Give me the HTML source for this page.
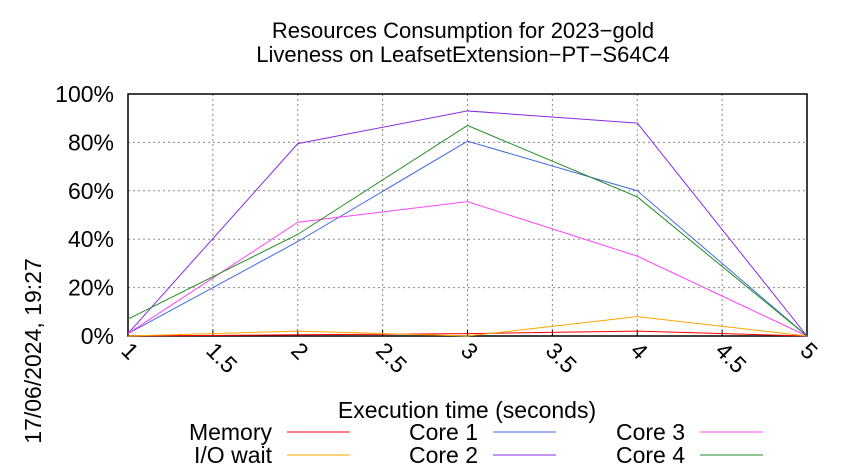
<!DOCTYPE html>
<html><head><meta charset="utf-8"><style>body{margin:0;background:#fff}svg{display:block;font-family:"Liberation Sans",sans-serif}</style></head>
<body>
<svg width="850" height="475">
<text x="463" y="38" font-size="22" text-anchor="middle">Resources Consumption for 2023−gold</text>
<text x="463" y="62" font-size="22" text-anchor="middle">Liveness on LeafsetExtension−PT−S64C4</text>
<g id="grid"></g>
<g id="axes"></g>
<g id="series"></g>
<text x="467" y="418" font-size="23" text-anchor="middle">Execution time (seconds)</text>
<text transform="translate(41,351) rotate(-90)" font-size="23" text-anchor="middle">17/06/2024, 19:27</text>
<g id="legend"></g>
</svg>
<script>
const xValues=[1,2,3,4,5];
const memory=[0,0.5,1,2,0];
const ioWait=[0,2,0,8,0];
const core1=[1,39,80.5,60,0];
const core2=[1,79.5,93,88,0];
const core3=[1,47,55.5,33,0];
const core4=[7,42,87,57.5,0];
const xTicks=[1,1.5,2,2.5,3,3.5,4,4.5,5];
const yTicks=[0,20,40,60,80,100];
const seriesNames=["Memory","I/O wait","Core 1","Core 2","Core 3","Core 4"];
const NS="http://www.w3.org/2000/svg";
const L=128,R=807,T=94,B=336;
const sx=v=>L+(v-1)/4*(R-L);
const sy=v=>B-v/100*(B-T);
function mk(tag,attrs,parent,text){const e=document.createElementNS(NS,tag);for(const k in attrs)e.setAttribute(k,attrs[k]);if(text!==undefined)e.textContent=text;parent.appendChild(e);return e;}
const grid=document.getElementById('grid'),axes=document.getElementById('axes'),series=document.getElementById('series'),legend=document.getElementById('legend');
xTicks.forEach(t=>{
 const g=mk('line',{x1:sx(t),x2:sx(t),y1:T,y2:B,stroke:'#888','stroke-dasharray':'2,3','stroke-width':1},grid);
 
 
 const tk=mk('line',{x1:sx(t),x2:sx(t),y1:B,y2:B-6,stroke:'#000'},axes);
 
 
 const lb=mk('text',{transform:`translate(${sx(t)-8},${B+16}) rotate(45)`,'font-size':23},axes,String(t));
 
 
});
yTicks.forEach(t=>{
 const g=mk('line',{x1:L,x2:R,y1:sy(t),y2:sy(t),stroke:'#888','stroke-dasharray':'2,3','stroke-width':1},grid);
 
 
 const lb=mk('text',{x:L-14,y:sy(t)+8,'font-size':23,'text-anchor':'end'},axes,t+'%');
 
 
});
const fr=mk('rect',{x:L,y:T,width:R-L,height:B-T,fill:'none',stroke:'#000','stroke-width':1.5},axes);


const data=[memory,ioWait,core1,core2,core3,core4];
const colors=['#ff0000','#ffa500','#4169e1','#8a2be2','#ff44ff','#228b22'];
data.forEach((d,i)=>{
 const p=mk('polyline',{points:d.map((v,j)=>sx(xValues[j])+','+sy(v)).join(' '),fill:'none',stroke:colors[i],'stroke-width':1},series);
 
 
});
const lx=[272,478,685],ly=[440,463];
seriesNames.forEach((n,i)=>{
 const c=Math.floor(i/2),r=i%2;
 const t=mk('text',{x:lx[c],y:ly[r],'font-size':23,'text-anchor':'end'},legend,n);
 
 
 const ln=mk('line',{x1:lx[c]+15,x2:lx[c]+78,y1:ly[r]-8,y2:ly[r]-8,stroke:colors[i],'stroke-width':1},legend);
 
 
});
</script>
</body></html>
